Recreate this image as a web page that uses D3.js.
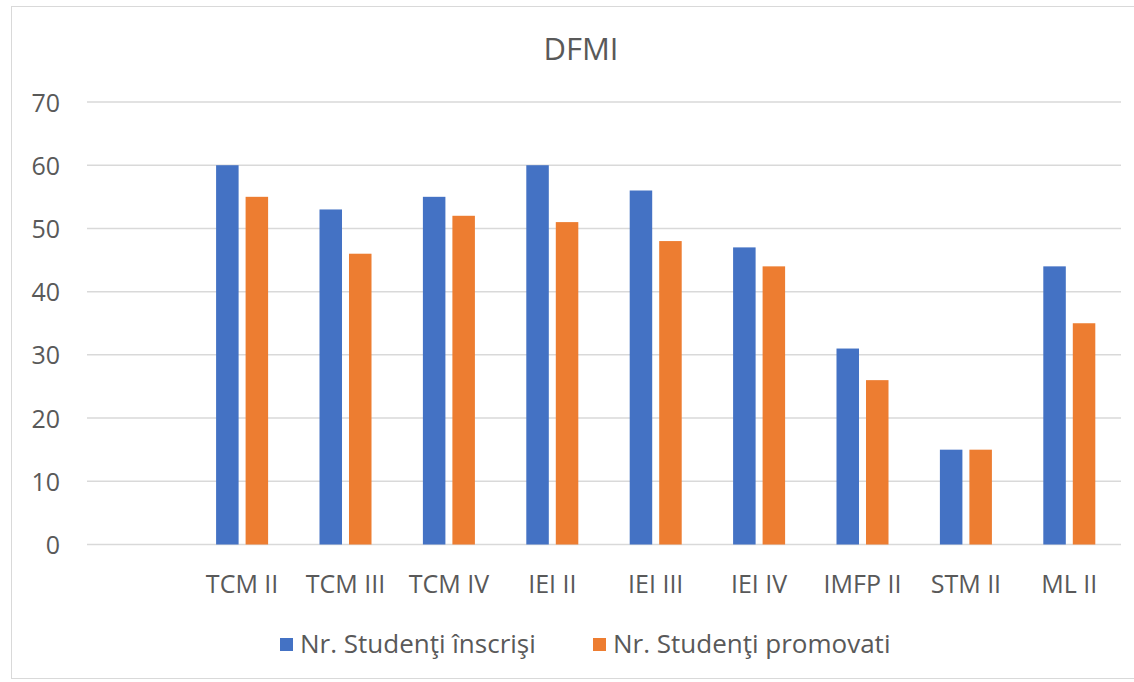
<!DOCTYPE html>
<html>
<head>
<meta charset="utf-8">
<script src="https://cdn.jsdelivr.net/npm/d3@7/dist/d3.min.js"></script>
<style>
  html, body { margin: 0; padding: 0; background: #fff; }
  svg { display: block; }
  text { font-family: "Open Sans", "Noto Sans", sans-serif; fill: #595959; }
</style>
</head>
<body>
<svg id="chart" width="1134" height="682"></svg>
<script>
// ---- data ----
const title = "DFMI";
const categories = ["", "TCM II", "TCM III", "TCM IV", "IEI II", "IEI III", "IEI IV", "IMFP II", "STM II", "ML II"];
const seriesNames = ["Nr. Studenţi înscrişi", "Nr. Studenţi promovati"];
const inscrisi  = [null, 60, 53, 55, 60, 56, 47, 31, 15, 44];
const promovati = [null, 55, 46, 52, 51, 48, 44, 26, 15, 35];
const yTicks = [0, 10, 20, 30, 40, 50, 60, 70];
const colors = ["#4472C4", "#ED7D31"];

// ---- layout ----
const svg = d3.select("#chart");
const plot = { left: 87, right: 1121, top: 102, bottom: 544.5 };

// chart border
svg.append("rect")
  .attr("x", 11.5).attr("y", 6.5)
  .attr("width", 1140).attr("height", 672)
  .attr("fill", "none").attr("stroke", "#D9D9D9").attr("stroke-width", 1);

const x0 = d3.scaleBand().domain(categories).range([plot.left, plot.right]).padding(0);
const groupW = x0.bandwidth() * 0.503;
const x1 = d3.scaleBand().domain(seriesNames).range([0, groupW]).paddingInner(0.237).paddingOuter(0);
const y = d3.scaleLinear().domain([0, 70]).range([plot.bottom, plot.top]);

// gridlines
svg.append("g").selectAll("line").data(yTicks).join("line")
  .attr("x1", plot.left).attr("x2", plot.right)
  .attr("y1", d => y(d)).attr("y2", d => y(d))
  .attr("stroke", "#D9D9D9").attr("stroke-width", 1.5);

// y axis labels
const yAxis = d3.axisLeft(y).tickValues(yTicks).tickSize(0).tickPadding(0);
const yg = svg.append("g").attr("transform", `translate(60,0)`).call(yAxis);
yg.select(".domain").remove();
yg.selectAll("text").style("font-size", "25px").attr("fill", "#595959")
  .attr("font-family", null).attr("dy", "0.36em");

// bars
const rows = categories.map((c, i) => ({ cat: c, vals: [inscrisi[i], promovati[i]] }));
const groups = svg.append("g").selectAll("g").data(rows).join("g")
  .attr("transform", d => `translate(${x0(d.cat) + (x0.bandwidth() - groupW) / 2},0)`);
groups.selectAll("rect")
  .data(d => d.vals.map((v, j) => ({ v, s: seriesNames[j], j })).filter(e => e.v != null))
  .join("rect")
  .attr("x", e => x1(e.s))
  .attr("width", x1.bandwidth())
  .attr("y", e => y(e.v))
  .attr("height", e => y(0) - y(e.v))
  .attr("fill", e => colors[e.j]);

// x axis labels
const xAxis = d3.axisBottom(x0).tickSize(0).tickPadding(0);
const xg = svg.append("g").attr("transform", `translate(0,${plot.bottom})`).call(xAxis);
xg.select(".domain").remove();
xg.selectAll("text").style("font-size", "25px").attr("fill", "#595959")
  .attr("font-family", null).attr("y", 48).attr("dy", 0);

// title
svg.append("text").attr("x", 581).attr("y", 60).attr("text-anchor", "middle")
  .style("font-size", "31px").text(title);

// legend
const legendX = [280, 593];
const lg = svg.append("g").selectAll("g").data(seriesNames).join("g")
  .attr("transform", (d, i) => `translate(${legendX[i]},0)`);
lg.append("rect").attr("x", 0).attr("y", 638).attr("width", 13).attr("height", 13)
  .attr("fill", (d, i) => colors[i]);
lg.append("text").attr("x", 20).attr("y", 653).style("font-size", "26px").text(d => d);
</script>
</body>
</html>
